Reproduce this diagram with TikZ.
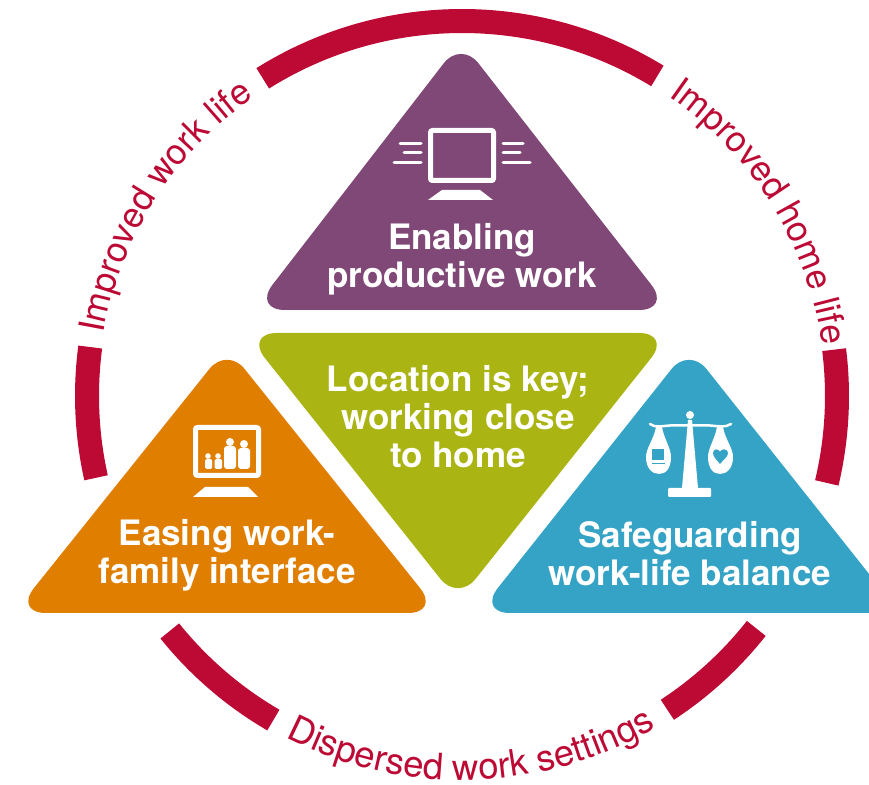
\documentclass[tikz,border=0pt]{standalone}
\usepackage{fontspec}
\setmainfont{TeX Gyre Heros}
\usetikzlibrary{calc,decorations.text}
\definecolor{ringred}{HTML}{BC0A35}
\definecolor{workpurple}{HTML}{7F4876}
\definecolor{familyorange}{HTML}{E07E00}
\definecolor{balanceblue}{HTML}{35A3C5}
\definecolor{keygreen}{HTML}{AAB513}
\def\centerarc[#1](#2)(#3:#4:#5){\draw[#1] ($(#2)+({#5*cos(#3)},{#5*sin(#3)})$) arc (#3:#4:#5);}
\def\arctext[#1](#2)(#3:#4:#5)#6{\path[decorate,decoration={text along path,text align=center,text={|\color{ringred}\fontsize{#1}{#1}\selectfont|#6}}] ($(#2)+({#5*cos(#3)},{#5*sin(#3)})$) arc (#3:#4:#5);}
\tikzset{
  ringarc/.style={line width=24pt,color=ringred},
  tilelabel/.style={text=white,align=center,font=\fontsize{35}{38}\selectfont\bfseries},
  iconline/.style={draw=white,line width=3pt,line cap=round},
}
\begin{document}
\begin{tikzpicture}[x=1pt,y=1pt]
	\useasboundingbox (0,0) rectangle (869,784);
	\coordinate (hub) at (462,388);
	
	%%%%% RING %%%%%
	\centerarc[ringarc](hub)(58.6:122.1:375);
	\centerarc[ringarc](hub)(172.5:192.6:375);
	\centerarc[ringarc](hub)(7.1:-13.4:375);
	\centerarc[ringarc](hub)(218.8:239.8:375);
	\centerarc[ringarc](hub)(-38.3:-56.8:375);
	
	\arctext[35.5](hub)(173:122:364){Improved work life}
	\arctext[35.5](hub)(57:6.4:364){Improved home life}
	\arctext[36.5](hub)(240:303:384){Dispersed work settings}
	
	%%%%% TILES %%%%%
	\begin{scope}
		\clip (0,0) rectangle (869,784);
		\fill[workpurple] (462,474) [rounded corners=32] -- (671,474) [rounded corners=28] -- (461,743) [rounded corners=32] -- (253,474) -- cycle;
		\fill[keygreen] (458,451) [rounded corners=32] -- (245,451) [rounded corners=28] -- (458,183) [rounded corners=32] -- (671,451) -- cycle;
		\fill[familyorange] (227,171) [rounded corners=32] -- (440,171) [rounded corners=28] -- (227,437) [rounded corners=32] -- (14,171) -- cycle;
		\fill[balanceblue] (690,171) [rounded corners=32] -- (900,171) [rounded corners=28] -- (689,437) [rounded corners=32] -- (478,171) -- cycle;
	\end{scope}
	
	\node[tilelabel] (enabling) at (462,525) {Enabling\\productive work};
	\node[tilelabel] (location) at (458,367) {Location is key;\\working close\\to home};
	\node[tilelabel] (easing) at (227,229) {Easing work-\\family interface};
	\node[tilelabel] (safeguarding) at (690,230) {Safeguarding\\work-life balance};
	
	%%%%% SCREEN %%%%%
	\draw[white,line width=5pt,rounded corners=2] (430.5,653.5) rectangle (493.5,603.5);
	\fill[white] (428,584) -- (442,594) -- (480,594) -- (493,584) -- cycle;
	\draw[iconline] (400,640) -- (421,640);
	\draw[iconline] (404,631) -- (421,631);
	\draw[iconline] (394,621.5) -- (421,621.5);
	\draw[iconline] (503,640) -- (523,640);
	\draw[iconline] (503,631) -- (520,631);
	\draw[iconline] (503,621.5) -- (530,621.5);
	
	%%%%% FAMILY %%%%%
	\draw[white,line width=5pt,rounded corners=2] (195.5,356.5) rectangle (258.5,308.5);
	\fill[white] (193,287) -- (205,297) -- (248,297) -- (258,287) -- cycle;
	\fill[white] (208,328) circle (2.8);
	\fill[white] (218,328) circle (2.8);
	\fill[white] (230,342) circle (4);
	\fill[white] (244,340) circle (4);
	\fill[white,rounded corners=1.5] (205,315) rectangle (212,325);
	\fill[white,rounded corners=1.5] (214.5,315) rectangle (222,325);
	\fill[white,rounded corners=3] (224,315) rectangle (236,338);
	\fill[white,rounded corners=3] (238,315) rectangle (250,336);
	
	%%%%% SCALES %%%%%
	\fill[white] (690,369) circle (4);
	\fill[white] (688,364) -- (692,364) -- (698,296) -- (682,296) -- cycle;
	\fill[white,rounded corners=1] (668,296) rectangle (711,287);
	\draw[white,line width=2.5pt,line cap=round] (650,360) .. controls (655,356) and (662,358) .. (670,358.5) -- (710,358.5) .. controls (718,358) and (725,356) .. (731,360);
	\fill[white] (656,357) -- (662,357) .. controls (664,345) and (671,336) .. (671,327) .. controls (671,316) and (666,310) .. (659,310) .. controls (652,310) and (646,316) .. (646,327) .. controls (646,336) and (654,345) .. (656,357) -- cycle;
	\fill[white] (717,357) -- (723,357) .. controls (725,345) and (733,336) .. (733,327) .. controls (733,316) and (727,310) .. (720,310) .. controls (713,310) and (708,316) .. (708,327) .. controls (708,336) and (715,345) .. (717,357) -- cycle;
	\fill[balanceblue] (652,335) rectangle (664,324);
	\fill[balanceblue] (652,321) rectangle (665,319.5);
	\fill[balanceblue] (720,320) .. controls (717,324) and (713,327) .. (713,331) .. controls (713,335) and (718,336) .. (720,332.5) .. controls (722,336) and (728,335) .. (728,331) .. controls (728,327) and (723,324) .. (720,320) -- cycle;
\end{tikzpicture}
\end{document}
